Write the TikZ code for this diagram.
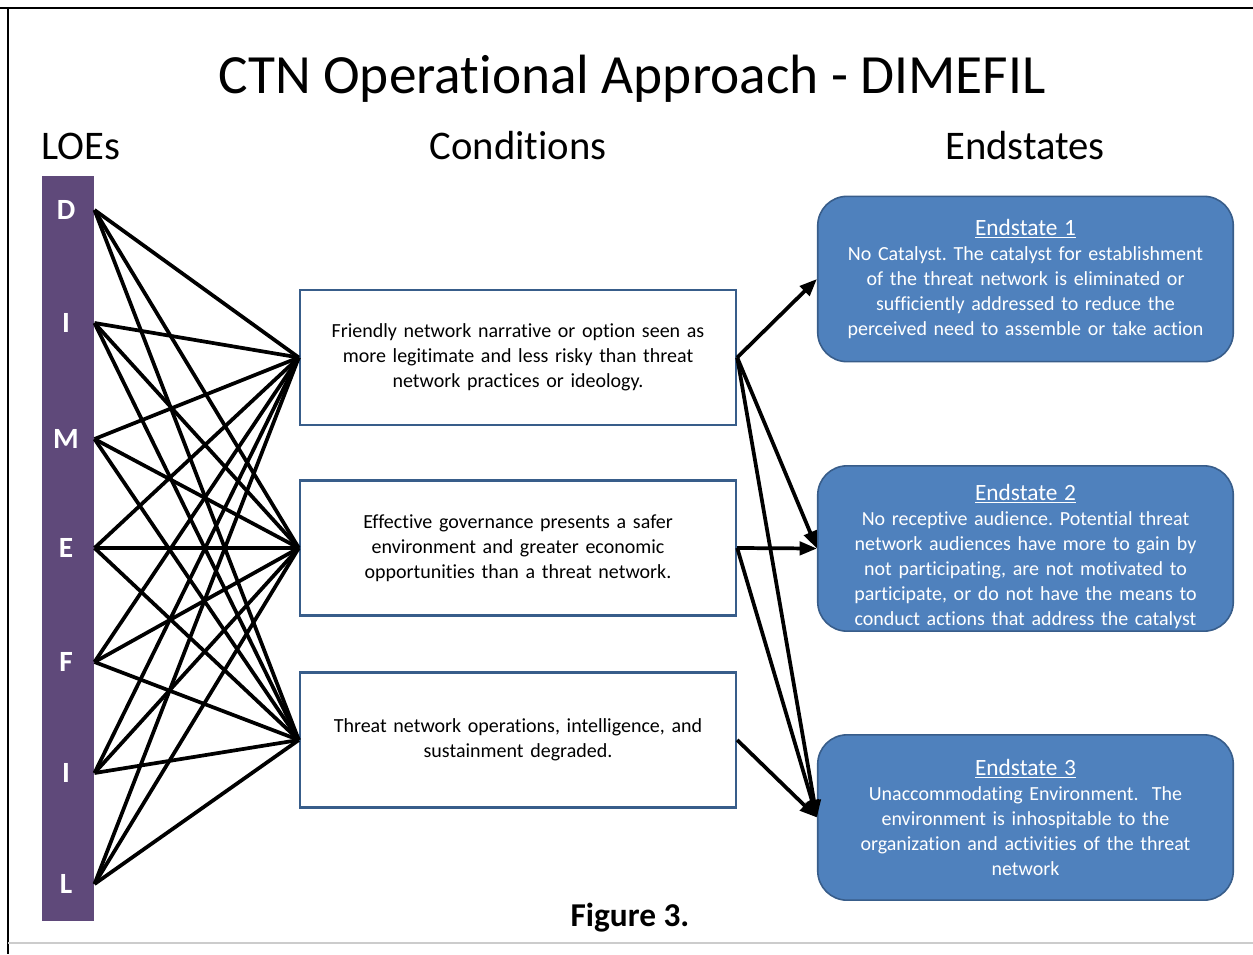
\documentclass[tikz,border=0pt]{standalone}
\usepackage{fontspec}
\setmainfont[Ligatures=NoCommon]{Carlito}
\usetikzlibrary{arrows.meta}

\definecolor{loepurple}{RGB}{95,73,122}
\definecolor{boxblue}{RGB}{79,129,189}
\definecolor{edgeblue}{RGB}{56,93,138}

\newcommand{\esheadfont}{\fontsize{17.5}{19}\selectfont}
\frenchspacing

\tikzset{every picture/.style={line width=0.75pt}}
\tikzset{
	condbox/.style={draw=edgeblue, line width=1.8pt, minimum width=327pt, minimum height=101pt, text width=310pt, align=center, font=\fontsize{15}{18.75}\selectfont},
	endbox/.style={draw=edgeblue, fill=boxblue, rounded corners=22pt, line width=1.2pt, minimum width=311pt, minimum height=124pt, text width=305pt, align=center, text=white, font=\fontsize{15}{18.75}\selectfont},
	loeletter/.style={text=white, font=\fontsize{22}{22}\selectfont\bfseries},
	link/.style={line width=2.8pt},
	flow/.style={line width=2.8pt, -{Triangle[length=13pt,width=10pt]}},
}

\begin{document}
\begin{tikzpicture}[x=0.75pt,y=0.75pt,yscale=-1,xscale=1]
	\useasboundingbox (0,0) rectangle (1253,954);
	
	%Frame
	\draw [line width=1.5pt] (0,8) -- (1253,8) ;
	\draw [line width=1.5pt] (8,8) -- (8,954) ;
	\draw [color=black!20, line width=1pt] (8,943) -- (1253,943) ;
	
	% Text Node
	\node (title) at (632,79) {\fontsize{41.5}{46}\selectfont CTN Operational Approach - DIMEFIL};
	% Text Node
	\node (loes) at (81,146) {\fontsize{30.5}{34}\selectfont LOEs};
	% Text Node
	\node (conds) at (518,146) {\fontsize{30.5}{34}\selectfont Conditions};
	% Text Node
	\node (ends) at (1025,146) {\fontsize{30.5}{34}\selectfont Endstates};
	
	%Shape: Rectangle [LOE bar]
	\node [fill=loepurple, minimum width=39pt, minimum height=559pt, inner sep=0pt] (bar) at (68,548.5) {};
	\node [loeletter] (D) at (66,210) {D};
	\node [loeletter] (I1) at (66,323) {I};
	\node [loeletter] (M) at (66,439) {M};
	\node [loeletter] (E) at (66,548) {E};
	\node [loeletter] (F) at (66,662) {F};
	\node [loeletter] (I2) at (66,773) {I};
	\node [loeletter] (L) at (66,884) {L};
	
	%Shape: Rectangle [conditions]
	\node [condbox] (c1) at (518,357.5) {Friendly network narrative or option seen as\\ more legitimate and less risky than threat\\ network practices or ideology.};
	\node [condbox] (c2) at (518,548) {Effective governance presents a safer\\ environment and greater economic\\ opportunities than a threat network.};
	\node [condbox] (c3) at (518,740) {Threat network operations, intelligence, and\\ sustainment degraded.\\[18pt]};
	
	%Shape: Rounded Rectangle [endstates]
	\node [endbox] (e1) at (1025.5,279) {{\esheadfont\underline{Endstate 1}}\\ No Catalyst. The catalyst for establishment\\ of the threat network is eliminated or\\ sufficiently addressed to reduce the\\ perceived need to assemble or take action};
	\node [endbox, inner ysep=0pt] (e2) at (1025.5,548.5) {\rule{0pt}{24pt}{\esheadfont\underline{Endstate 2}}\\ No receptive audience. Potential threat\\ network audiences have more to gain by\\ not participating, are not motivated to\\ participate, or do not have the means to\\ conduct actions that address the catalyst};
	\node [endbox] (e3) at (1025.5,817.5) {{\esheadfont\underline{Endstate 3}}\\ Unaccommodating Environment.\ \ The\\ environment is inhospitable to the\\ organization and activities of the threat\\ network};
	
	%Straight Lines [D]
	\draw [link] (bar.east |- D) -- (c1.west) ;
	\draw [link] (bar.east |- D) -- (c2.west) ;
	\draw [link] (bar.east |- D) -- (c3.west) ;
	%Straight Lines [I]
	\draw [link] (bar.east |- I1) -- (c1.west) ;
	\draw [link] (bar.east |- I1) -- (c2.west) ;
	\draw [link] (bar.east |- I1) -- (c3.west) ;
	%Straight Lines [M]
	\draw [link] (bar.east |- M) -- (c1.west) ;
	\draw [link] (bar.east |- M) -- (c2.west) ;
	\draw [link] (bar.east |- M) -- (c3.west) ;
	%Straight Lines [E]
	\draw [link] (bar.east |- E) -- (c1.west) ;
	\draw [link] (bar.east |- E) -- (c2.west) ;
	\draw [link] (bar.east |- E) -- (c3.west) ;
	%Straight Lines [F]
	\draw [link] (bar.east |- F) -- (c1.west) ;
	\draw [link] (bar.east |- F) -- (c2.west) ;
	\draw [link] (bar.east |- F) -- (c3.west) ;
	%Straight Lines [I]
	\draw [link] (bar.east |- I2) -- (c1.west) ;
	\draw [link] (bar.east |- I2) -- (c2.west) ;
	\draw [link] (bar.east |- I2) -- (c3.west) ;
	%Straight Lines [L]
	\draw [link] (bar.east |- L) -- (c1.west) ;
	\draw [link] (bar.east |- L) -- (c2.west) ;
	\draw [link] (bar.east |- L) -- (c3.west) ;
	
	%Straight Lines [to endstates]
	\draw [flow] (c1.east) -- (e1.west) ;
	\draw [flow] (c1.east) -- (e2.west) ;
	\draw [flow] (c1.east) -- (e3.west) ;
	\draw [flow] (c2.east) -- (e2.west) ;
	\draw [flow] (c2.east) -- (e3.west) ;
	\draw [flow] (c3.east) -- (e3.west) ;
	
	% Text Node
	\node (fig) at (630,918) {\fontsize{25}{28}\selectfont\bfseries Figure 3.};
	
\end{tikzpicture}
\end{document}
